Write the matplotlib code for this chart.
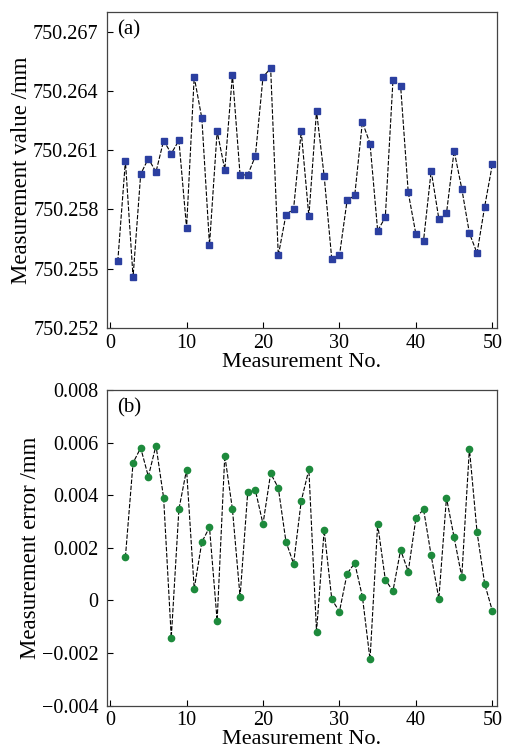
import matplotlib.pyplot as plt
import numpy as np

# Measurement value (a), No. 1..50
meas_no = np.arange(1, 51)
meas_value = [
    750.25537, 750.26046, 750.25458, 750.25979, 750.26058, 750.25990, 750.26149, 750.26083, 750.26150, 750.25707,
    750.26471, 750.26262, 750.25621, 750.26196, 750.26002, 750.26483, 750.25975, 750.25975, 750.26070, 750.26471,
    750.26515, 750.25567, 750.25773, 750.25803, 750.26196, 750.25765, 750.26299, 750.25969, 750.25547, 750.25567,
    750.25846, 750.25871, 750.26243, 750.26134, 750.25692, 750.25761, 750.26454, 750.26427, 750.25886, 750.25675,
    750.25642, 750.25996, 750.25753, 750.25780, 750.26097, 750.25906, 750.25680, 750.25579, 750.25815, 750.26028,
]

# Measurement error (b), No. 2..50
err_no = np.arange(2, 51)
meas_error = [
    0.00165, 0.00523, 0.00580, 0.00471, 0.00589, 0.00390, -0.00141, 0.00347, 0.00497,
    0.00044, 0.00222, 0.00278, -0.00077, 0.00551, 0.00347, 0.00014, 0.00411, 0.00419, 0.00291,
    0.00483, 0.00428, 0.00224, 0.00140, 0.00378, 0.00498, -0.00118, 0.00267, 0.00004, -0.00042,
    0.00102, 0.00142, 0.00015, -0.00224, 0.00290, 0.00079, 0.00036, 0.00192, 0.00110, 0.00312,
    0.00347, 0.00171, 0.00006, 0.00390, 0.00240, 0.00090, 0.00577, 0.00260, 0.00063, -0.00039,
]

value_ticks = [750.252, 750.255, 750.258, 750.261, 750.264, 750.267]
error_ticks = [-0.004, -0.002, 0, 0.002, 0.004, 0.006, 0.008]
error_labels = ["\u22120.004", "\u22120.002", "0", "0.002", "0.004", "0.006", "0.008"]
x_ticks = [0, 10, 20, 30, 40, 50]

plt.rcParams["font.family"] = ["Liberation Serif", "DejaVu Serif"]
plt.rcParams["font.size"] = 14.5

fig = plt.figure(figsize=(5.05, 7.51), dpi=100)
ax1 = fig.add_axes([0.212, 0.5633, 0.772, 0.4207])
ax2 = fig.add_axes([0.212, 0.0603, 0.772, 0.4204])

dash = (0, (4, 1.5))

ax1.plot(meas_no, meas_value, color="black", lw=0.8, linestyle=dash,
         marker="s", markersize=4.2, markerfacecolor="#2b3fa0", markeredgecolor="#2b3fa0")
ax1.set_xlim(-0.4, 50.6)
ax1.set_ylim(750.252, 750.268)
ax1.set_yticks(value_ticks)
ax1.set_yticklabels([f"{v:.3f}" for v in value_ticks])
ax1.set_ylabel("Measurement value /mm", fontsize=16.5, labelpad=1)
ax1.set_xlabel("Measurement No.", fontsize=16, labelpad=0)
ax1.text(0.025, 0.975, "(a)", transform=ax1.transAxes, va="top", ha="left", fontsize=15)

ax2.plot(err_no, meas_error, color="black", lw=0.8, linestyle=dash,
         marker="o", markersize=4.5, markerfacecolor="#1d8a3c", markeredgecolor="#1d8a3c")
ax2.set_xlim(-0.4, 50.6)
ax2.set_ylim(-0.004, 0.008)
ax2.set_yticks(error_ticks)
ax2.set_yticklabels(error_labels)
ax2.set_ylabel("Measurement error /mm", fontsize=16.5, labelpad=1)
ax2.set_xlabel("Measurement No.", fontsize=16, labelpad=0)
ax2.text(0.025, 0.975, "(b)", transform=ax2.transAxes, va="top", ha="left", fontsize=15)

for ax in (ax1, ax2):
    ax.set_xticks(x_ticks)
    ax.tick_params(direction="in", length=4, width=0.8, top=False, right=False)
    ax.tick_params(axis="x", pad=4)
    ax.tick_params(axis="y", pad=6)
    for s in ax.spines.values():
        s.set_linewidth(0.9)
        s.set_color("#444444")

fig.savefig("out.png", dpi=100)
